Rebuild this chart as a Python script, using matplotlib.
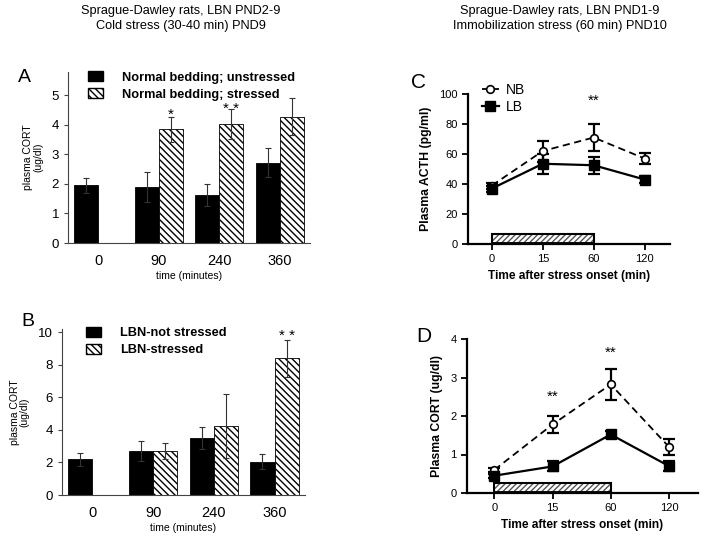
import matplotlib
matplotlib.use("Agg")
import matplotlib.pyplot as plt
import numpy as np
from matplotlib.patches import Patch, Rectangle

plt.rcParams['font.family'] = ['Liberation Sans', 'DejaVu Sans']

# ---- data ----
bar_times = ['0', '90', '240', '360']

# panel A: normal bedding
a_unstr = [1.95, 1.9, 1.62, 2.72]
a_unstr_err = [0.25, 0.5, 0.38, 0.48]
a_str_idx = [1, 2, 3]
a_str = [3.85, 4.02, 4.27]
a_str_err = [0.42, 0.52, 0.62]

# panel B: LBN
b_unstr = [2.2, 2.7, 3.5, 2.05]
b_unstr_err = [0.4, 0.62, 0.68, 0.48]
b_str_idx = [1, 2, 3]
b_str = [2.7, 4.25, 8.4]
b_str_err = [0.5, 1.95, 1.15]

line_times = ['0', '15', '60', '120']

# panel C: ACTH
c_nb = [39, 62, 71, 57]
c_nb_err = [2, 7, 9, 3.5]
c_lb = [37, 53.5, 52.5, 43]
c_lb_err = [2, 6.5, 5.5, 2.5]

# panel D: CORT
d_nb = [0.6, 1.78, 2.82, 1.2]
d_nb_err = [0.05, 0.21, 0.41, 0.21]
d_lb = [0.45, 0.69, 1.52, 0.7]
d_lb_err = [0.05, 0.13, 0.1, 0.12]

W, H = 704, 542
fig = plt.figure(figsize=(W / 100, H / 100), dpi=100)


def px_axes(left, top, right, bottom):
    return fig.add_axes([left / W, 1 - bottom / H, (right - left) / W, (bottom - top) / H])


def bar_panel(ax, unstr, unstr_err, s_idx, s, s_err, ylim, yticks, labels, leg_anchor):
    x = np.arange(len(unstr))
    w = 0.4
    ax.bar(x - w / 2, unstr, w, color='black', edgecolor='black', lw=0.6)
    ax.bar(np.array(s_idx) + w / 2, s, w, color='white', edgecolor='black',
           hatch='\\\\\\\\\\', lw=0.6)
    ax.errorbar(x - w / 2, unstr, yerr=unstr_err, fmt='none', ecolor='#333333',
                elinewidth=0.8, capsize=2, capthick=0.8)
    ax.errorbar(np.array(s_idx) + w / 2, s, yerr=s_err, fmt='none', ecolor='#333333',
                elinewidth=0.8, capsize=2, capthick=0.8)
    ax.set_xlim(-0.5, 3.5)
    ax.set_ylim(*ylim)
    ax.set_yticks(yticks)
    ax.set_xticks(x)
    ax.set_xticklabels(bar_times, fontsize=10.5)
    ax.tick_params(axis='x', length=0, pad=8)
    ax.tick_params(axis='y', labelsize=9.5, length=3, width=0.8, color='#444444')
    for sp in ['top', 'right']:
        ax.spines[sp].set_visible(False)
    for sp in ['left', 'bottom']:
        ax.spines[sp].set_linewidth(0.8)
        ax.spines[sp].set_color('#444444')
    ax.set_xlabel('time (minutes)', fontsize=7.5, labelpad=2)
    ax.set_ylabel('plasma CORT\n(ug/dl)', fontsize=7.5, labelpad=6, linespacing=1.0)
    handles = [Patch(facecolor='black', edgecolor='black'),
               Patch(facecolor='white', edgecolor='black', hatch='\\\\\\\\\\')]
    ax.legend(handles, labels, loc='upper left', bbox_to_anchor=leg_anchor,
              frameon=False, prop={'weight': 'bold', 'size': 9.2},
              handlelength=1.15, handleheight=0.85, handletextpad=1.5,
              labelspacing=0.35, borderaxespad=0, borderpad=0)


axA = px_axes(68, 72, 310, 243)
bar_panel(axA, a_unstr, a_unstr_err, a_str_idx, a_str, a_str_err, (0, 5.78),
          range(0, 6), ['Normal bedding; unstressed', 'Normal bedding; stressed'],
          (0.082, 1.005))
axA.text(1.2, 4.2, '*', ha='center', fontsize=11)
axA.text(2.2, 4.4, '* *', ha='center', fontsize=11)

axB = px_axes(62, 329, 305, 495)
bar_panel(axB, b_unstr, b_unstr_err, b_str_idx, b_str, b_str_err, (0, 10.2),
          range(0, 11, 2), ['LBN-not stressed', 'LBN-stressed'], (0.098, 1.015))
axB.text(3.2, 9.5, '* *', ha='center', fontsize=11)


def line_panel(ax, nb, nb_err, lb, lb_err, ylim, yticks, ylabel, rect_h, legend=False):
    x = np.arange(len(nb))
    rect = Rectangle((0, 0), 2, rect_h, facecolor='white', edgecolor='#555555',
                     hatch='//////', lw=0, zorder=1)
    ax.add_patch(rect)
    ax.add_patch(Rectangle((0, 0), 2, rect_h, fill=False, edgecolor='black', lw=1.5, zorder=2))
    ax.plot([0, 2], [0, 0], color='black', lw=3.5, zorder=2, solid_capstyle='butt')
    ax.errorbar(x, nb, yerr=nb_err, fmt='none', ecolor='black', elinewidth=1.6,
                capsize=4, capthick=1.6, zorder=3)
    ax.errorbar(x, lb, yerr=lb_err, fmt='none', ecolor='black', elinewidth=1.6,
                capsize=4, capthick=1.6, zorder=3)
    l1, = ax.plot(x, nb, ls='--', color='black', lw=1.3, marker='o', ms=5.5,
                  mfc='white', mec='black', mew=1.2, zorder=4, dashes=(4, 2.5))
    l2, = ax.plot(x, lb, ls='-', color='black', lw=1.6, marker='s', ms=6.5,
                  mfc='black', mec='black', zorder=4)
    ax.set_xlim(-0.47, 3.5)
    ax.set_ylim(*ylim)
    ax.set_yticks(yticks)
    ax.set_xticks(x)
    ax.set_xticklabels(line_times)
    ax.tick_params(labelsize=8, length=4, width=1.3)
    for sp in ['top', 'right']:
        ax.spines[sp].set_visible(False)
    for sp in ['left', 'bottom']:
        ax.spines[sp].set_linewidth(1.6)
    ax.set_xlabel('Time after stress onset (min)', fontsize=8.6, fontweight='bold', labelpad=4)
    ax.set_ylabel(ylabel, fontsize=8.8, fontweight='bold', labelpad=5)
    if legend:
        ax.legend([l1, l2], ['NB', 'LB'], loc='upper left', bbox_to_anchor=(0.07, 1.075),
                  frameon=False, fontsize=10, handlelength=1.2, handletextpad=0.5,
                  labelspacing=0.25, borderaxespad=0, borderpad=0)


axC = px_axes(468, 94, 670, 244)
line_panel(axC, c_nb, c_nb_err, c_lb, c_lb_err, (0, 100), range(0, 101, 20),
           'Plasma ACTH (pg/ml)', 6.7, legend=True)
axC.text(2, 93, '**', ha='center', fontsize=11)

axD = px_axes(467, 339, 698, 493)
line_panel(axD, d_nb, d_nb_err, d_lb, d_lb_err, (0, 4), range(0, 5),
           'Plasma CORT (ug/dl)', 0.27)
axD.text(1, 2.4, '**', ha='center', fontsize=11)
axD.text(2, 3.55, '**', ha='center', fontsize=11)

# titles and panel letters
fig.text(181 / W, 1 - 11 / H, 'Sprague-Dawley rats, LBN PND2-9', ha='center', va='center', fontsize=9.2)
fig.text(181 / W, 1 - 26 / H, 'Cold stress (30-40 min) PND9', ha='center', va='center', fontsize=9.2)
fig.text(560 / W, 1 - 11 / H, 'Sprague-Dawley rats, LBN PND1-9', ha='center', va='center', fontsize=9.2)
fig.text(560 / W, 1 - 26 / H, 'Immobilization stress (60 min) PND10', ha='center', va='center', fontsize=9.2)
fig.text(24 / W, 1 - 77 / H, 'A', ha='center', va='center', fontsize=14)
fig.text(28 / W, 1 - 322 / H, 'B', ha='center', va='center', fontsize=14)
fig.text(419 / W, 1 - 83 / H, 'C', ha='center', va='center', fontsize=15)
fig.text(424 / W, 1 - 337 / H, 'D', ha='center', va='center', fontsize=15)

fig.savefig('out.png', dpi=100)
